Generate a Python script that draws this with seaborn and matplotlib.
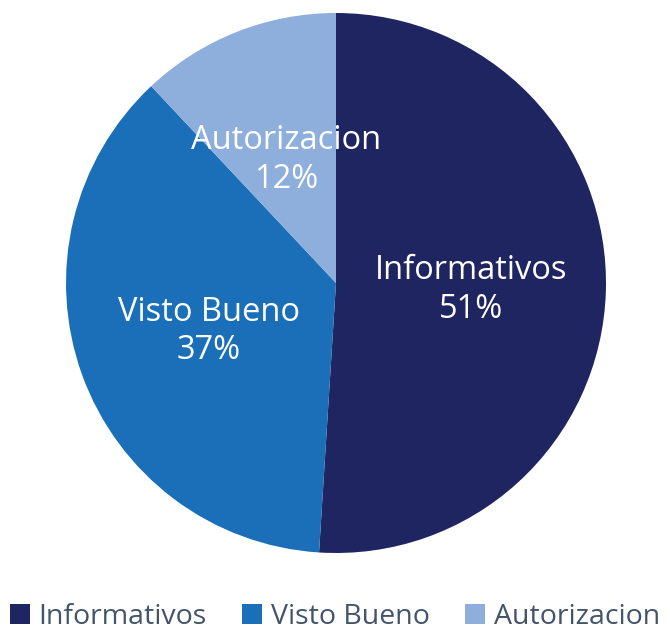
import matplotlib
matplotlib.use("Agg")
import numpy as np
import matplotlib.pyplot as plt
from matplotlib.patches import Patch
import seaborn as sns

categories = ["Informativos", "Visto Bueno", "Autorizacion"]
shares = [51, 37, 12]
colors = ["#1f2560", "#1a6fb8", "#8eaedc"]

sns.set_style("white")
plt.rcParams["font.family"] = ["Open Sans", "DejaVu Sans"]

fig = plt.figure(figsize=(6.7, 6.34), dpi=100)
ax = fig.add_axes([66 / 670, 81 / 634, 540 / 670, 540 / 634])

wedges, _ = ax.pie(
    shares,
    colors=colors,
    startangle=90,
    counterclock=False,
    radius=1,
    wedgeprops=dict(linewidth=0),
)

# Category name and share written inside each wedge
for w, name, val in zip(wedges, categories, shares):
    ang = np.deg2rad((w.theta1 + w.theta2) / 2)
    ax.text(0.5 * np.cos(ang), 0.5 * np.sin(ang) - 0.01, f"{name}\n{val}%",
            ha="center", va="center", color="white", fontsize=23.5,
            fontweight="medium", linespacing=1.22)

ax.set_xlim(-1, 1)
ax.set_ylim(-1, 1)
ax.set_aspect("equal")
ax.axis("off")

handles = [Patch(facecolor=c, edgecolor="none") for c in colors]
fig.legend(handles, categories, loc="center", bbox_to_anchor=(0.5, 1 - 617 / 634),
           ncol=3, frameon=False, fontsize=20.5, handlelength=0.7, handleheight=0.7,
           handletextpad=0.3, columnspacing=1.25, labelcolor="#44546a")

fig.savefig("out.png", dpi=100, facecolor="white")
